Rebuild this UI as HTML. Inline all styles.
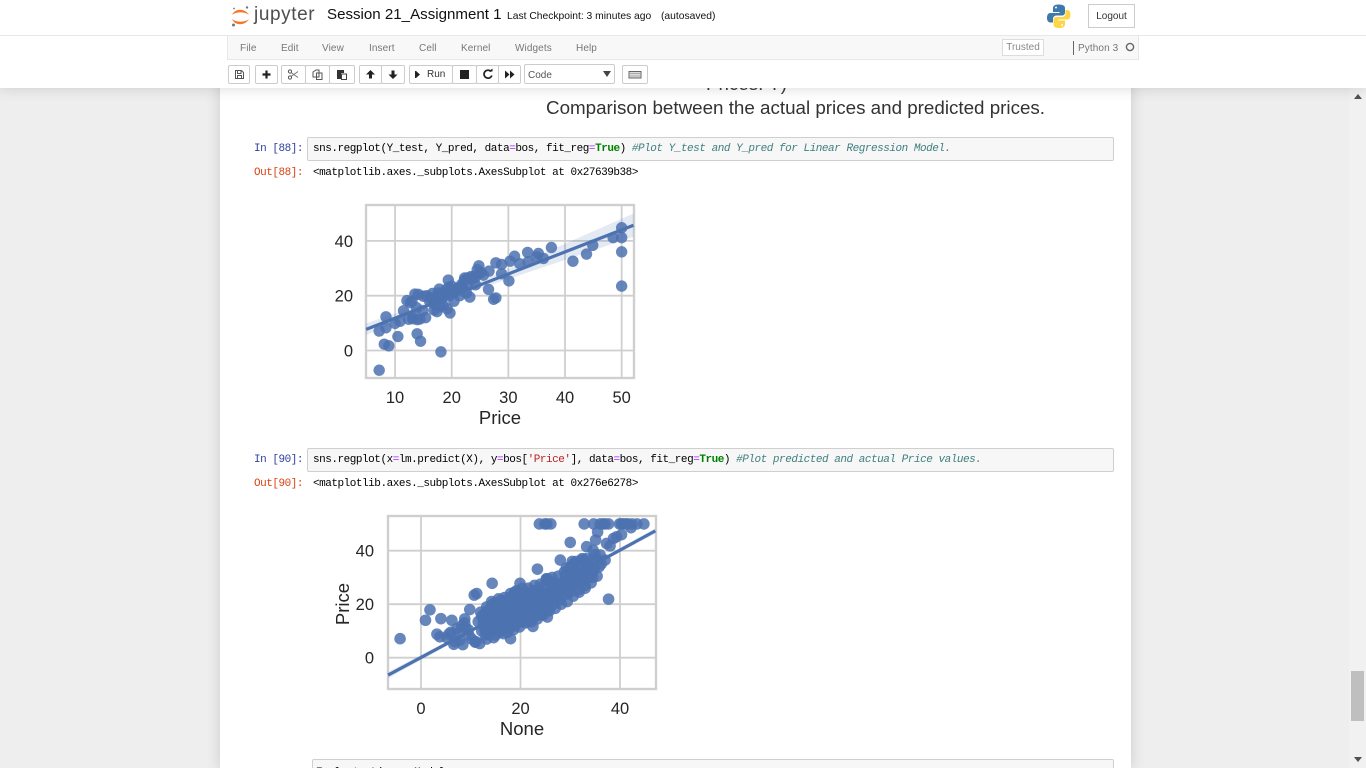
<!DOCTYPE html>
<html lang="en">
<head>
<meta charset="utf-8">
<title>Session 21_Assignment 1</title>
<style>
html,body{margin:0;padding:0;width:1366px;height:768px;overflow:hidden;background:#eee;font-family:"Liberation Sans",Arial,sans-serif;}
#stage{position:relative;width:1366px;height:768px;overflow:hidden;background:#eee;}
.abs{position:absolute;white-space:nowrap;}
#nb{left:220px;top:0;width:911px;height:768px;background:#fff;box-shadow:0 0 12px 1px rgba(87,87,87,.2);}
#hdr{left:0;top:0;width:1366px;height:88px;background:#fff;box-shadow:0 0 12px 1px rgba(87,87,87,.2);z-index:5;}
#hdr .abs{z-index:6;}
.menu{top:41px;font-size:10px;line-height:13px;color:#777;letter-spacing:.1px;}
.btn{top:65px;height:17px;background:#fff;border:1px solid #ccc;border-radius:2px;box-sizing:content-box;}
.btn svg{position:absolute;left:0;top:0;}
.prompt,.code{font-family:"Liberation Mono",monospace;font-size:11px;letter-spacing:-.47px;line-height:14px;}
.in{color:#303F9F;left:254px;}
.out{color:#D84315;left:254px;}
.inbox{left:307px;width:805px;background:#f7f7f7;border:1px solid #cfcfcf;border-radius:2px;}
.code{color:#000;left:313px;}
.o{color:#a2f;}
.k{color:#008000;font-weight:bold;}
.c{color:#408080;font-style:italic;}
.s{color:#BA2121;}
</style>
</head>
<body>
<div id="stage">
  <div class="abs" id="nb"></div>

  <div class="abs" style="left:706px;top:72px;font-size:18.8px;line-height:24px;color:#333;">Prices: Y)</div>
  <div class="abs" style="left:546px;top:96px;font-size:18.8px;line-height:24px;color:#333;">Comparison between the actual prices and predicted prices.</div>

  <div class="abs prompt in" style="top:142px;">In [88]:</div>
  <div class="abs inbox" style="top:137px;height:22px;"></div>
  <div class="abs code" style="top:142px;">sns.regplot(Y_test, Y_pred, data<span class="o">=</span>bos, fit_reg<span class="o">=</span><span class="k">True</span>) <span class="c">#Plot Y_test and Y_pred for Linear Regression Model.</span></div>
  <div class="abs prompt out" style="top:166px;">Out[88]:</div>
  <div class="abs code" style="top:166px;">&lt;matplotlib.axes._subplots.AxesSubplot at 0x27639b38&gt;</div>

  <div class="abs prompt in" style="top:453px;">In [90]:</div>
  <div class="abs inbox" style="top:448px;height:22px;"></div>
  <div class="abs code" style="top:453px;">sns.regplot(x<span class="o">=</span>lm.predict(X), y<span class="o">=</span>bos[<span class="s">'Price'</span>], data<span class="o">=</span>bos, fit_reg<span class="o">=</span><span class="k">True</span>) <span class="c">#Plot predicted and actual Price values.</span></div>
  <div class="abs prompt out" style="top:477px;">Out[90]:</div>
  <div class="abs code" style="top:477px;">&lt;matplotlib.axes._subplots.AxesSubplot at 0x276e6278&gt;</div>

  <div class="abs inbox" style="left:312px;width:800px;top:759px;height:30px;"></div>
  <div class="abs code" style="top:766px;left:316px;">Evaluate Linear Model</div>

  <svg class="abs" id="chart1" width="1366" height="768" style="left:0;top:0;font-family:'Liberation Sans',Arial,sans-serif;"></svg>
  <svg class="abs" id="chart2" width="1366" height="768" style="left:0;top:0;font-family:'Liberation Sans',Arial,sans-serif;"></svg>

  <div class="abs" style="left:1349px;top:88px;width:17px;height:680px;background:#f1f1f1;"></div>
  <div class="abs" style="left:1351px;top:671px;width:13px;height:50px;background:#bfbfbf;"></div>
  <svg class="abs" width="10" height="6" style="left:1353px;top:94px;"><polygon points="5,0 9,5 1,5" fill="#505050"/></svg>
  <svg class="abs" width="10" height="6" style="left:1353px;top:757px;"><polygon points="1,0 9,0 5,5" fill="#505050"/></svg>

  <div class="abs" id="hdr">
    <svg class="abs" width="22" height="24" style="left:230px;top:4px;">
      <path d="M2 11 C5 4 15 4 19 11 C15 7.5 6 7.5 2 11 Z" fill="#F37726"/>
      <path d="M2 15 C5 22 15 22 19 15 C15 18.5 6 18.5 2 15 Z" fill="#F37726"/>
      <circle cx="17" cy="3.5" r="1.2" fill="#767677"/><circle cx="3.5" cy="21" r="1.5" fill="#767677"/><circle cx="4" cy="4.5" r=".9" fill="#767677"/>
    </svg>
    <div class="abs" style="left:254px;top:3px;font-size:19px;line-height:24px;color:#4e4e4e;letter-spacing:.6px;">jupyter</div>
    <div class="abs" style="left:327px;top:5px;font-size:15.1px;line-height:20px;color:#111;">Session 21_Assignment 1</div>
    <div class="abs" style="left:507px;top:10px;font-size:10.3px;line-height:13px;color:#111;">Last Checkpoint: 3 minutes ago</div>
    <div class="abs" style="left:661px;top:10px;font-size:10.3px;line-height:13px;color:#111;">(autosaved)</div>

    <svg class="abs" width="24" height="25" style="left:1047px;top:4px;">
      <path d="M12 0.5 C6 0.5 6 3 6 5 V8 H12.5 V9 H3.5 C0.5 9 0 12 0 14 C0 17 1.5 18.5 3.5 18.5 H6 V15 C6 13 7.5 11.5 9.5 11.5 H15 C16.5 11.5 18 10.5 18 8.5 V4 C18 2 16 0.5 12 0.5 Z" fill="#3d79ab"/>
      <path d="M12 24 C18 24 18 21.5 18 19.5 V16.5 H11.5 V15.5 H20.5 C23 15.5 23.5 12.5 23.5 10.5 C23.5 7.5 22 6 20 6 H18.5 V9.5 C18.5 11.5 17 13 15 13 H9.5 C8 13 6.5 14 6.5 16 V20.5 C6.5 22.5 8 24 12 24 Z" fill="#fdd648"/>
      <circle cx="9" cy="3.5" r="1" fill="#fff"/><circle cx="15" cy="21" r="1" fill="#fff"/>
    </svg>
    <div class="abs" style="left:1088px;top:4px;width:45px;height:22px;border:1px solid #ccc;font-size:10px;line-height:24px;text-align:center;color:#333;background:#fff;">Logout</div>

    <div class="abs" style="left:0;top:35px;width:1366px;height:1px;background:#e7e7e7;"></div>
    <div class="abs" style="left:227px;top:36px;width:910px;height:23px;background:#f8f8f8;border-right:1px solid #e7e7e7;border-left:1px solid #e7e7e7;border-bottom:1px solid #e7e7e7;"></div>
    <div class="abs menu" style="left:240px;top:42px;">File</div>
    <div class="abs menu" style="left:281px;top:42px;">Edit</div>
    <div class="abs menu" style="left:322px;top:42px;">View</div>
    <div class="abs menu" style="left:369px;top:42px;">Insert</div>
    <div class="abs menu" style="left:419px;top:42px;">Cell</div>
    <div class="abs menu" style="left:461px;top:42px;">Kernel</div>
    <div class="abs menu" style="left:515px;top:42px;">Widgets</div>
    <div class="abs menu" style="left:576px;top:42px;">Help</div>
    <div class="abs" style="left:1002px;top:39px;width:40px;height:15px;border:1px solid #ddd;background:#fff;font-size:10px;line-height:16px;text-align:center;color:#888;">Trusted</div>
    <div class="abs" style="left:1073px;top:41px;width:1px;height:14px;background:#666;"></div>
    <div class="abs menu" style="left:1078px;top:42px;">Python 3</div>
    <svg class="abs" width="12" height="12" style="left:1124px;top:41px;"><circle cx="6" cy="6" r="3.6" fill="none" stroke="#666" stroke-width="1.4"/></svg>

    <div class="abs btn" style="left:228px;width:20px;"><svg width="20" height="17"><path d="M6.5 4.5h6l2 2v6h-8z M8.5 4.5v3h3.5v-3 M8.5 12.5v-3h4v3" fill="none" stroke="#555" stroke-width="1"/></svg></div>
    <div class="abs btn" style="left:255px;width:21px;"><svg width="21" height="17"><path d="M10.5 4.5v8M6.5 8.5h8" stroke="#222" stroke-width="2.2"/></svg></div>
    <div class="abs btn" style="left:281px;width:23px;"><svg width="23" height="17"><circle cx="8" cy="5.5" r="1.6" fill="none" stroke="#555"/><circle cx="8" cy="11.5" r="1.6" fill="none" stroke="#555"/><path d="M9 6.5l7 5M9 10.5l7-5" stroke="#777"/></svg></div>
    <div class="abs btn" style="left:305px;width:23px;"><svg width="23" height="17"><path d="M7 6l3-2h3v7H7z M10.5 7h5.500v6.500h-5.500z" fill="#fff" stroke="#555"/></svg></div>
    <div class="abs btn" style="left:329px;width:24px;"><svg width="24" height="17"><path d="M7 4h7v3h-3v6H7z" fill="#333"/><path d="M11.500 8h5v5.500h-5z" fill="#fff" stroke="#444"/></svg></div>
    <div class="abs btn" style="left:359px;width:21px;"><svg width="21" height="17"><path d="M10.500 4l4.500 4.500h-3v4h-3v-4h-3z" fill="#222"/></svg></div>
    <div class="abs btn" style="left:381px;width:22px;"><svg width="22" height="17"><path d="M11 13l-4.500-4.500h3v-4h3v4h3z" fill="#222"/></svg></div>
    <div class="abs btn" style="left:409px;width:42px;font-size:10px;line-height:18px;color:#333;"><svg width="14" height="17"><path d="M6 5l4 3.500-4 3.500z M5 5h1.400v7H5z" fill="#222"/></svg><span style="position:absolute;left:17px;top:0;">Run</span></div>
    <div class="abs btn" style="left:452px;width:23px;"><svg width="23" height="17"><rect x="7" y="4" width="9" height="9" fill="#222"/></svg></div>
    <div class="abs btn" style="left:476px;width:21px;"><svg width="21" height="17"><path d="M14 5.500a4 4 0 1 0 .8 4" fill="none" stroke="#222" stroke-width="1.700"/><path d="M11.500 5.500h4v-3z" fill="#222"/></svg></div>
    <div class="abs btn" style="left:498px;width:21px;"><svg width="21" height="17"><path d="M6 4.500l4.500 4-4.500 4z M11 4.500l4.500 4-4.500 4z" fill="#222"/></svg></div>
    <div class="abs" style="left:524px;top:64px;width:89px;height:18px;border:1px solid #ccc;border-radius:2px;background:#fff;font-size:10px;line-height:22px;color:#555;"><span style="position:absolute;left:3px;top:0;">Code</span><svg width="8" height="7" style="position:absolute;left:78px;top:6px;"><polygon points="0,0 8,0 4,6" fill="#444"/></svg></div>
    <div class="abs btn" style="left:622px;width:24px;"><svg width="24" height="17"><rect x="6" y="5.500" width="12" height="6.500" fill="#ddd" stroke="#666"/><path d="M7.500 7.500h9M7.500 10h9" stroke="#777" stroke-dasharray="1 1"/></svg></div>
  </div>
</div>

<script>
/* Chart 1 data: actual price vs predicted price */
var c1XTicks = [10, 20, 30, 40, 50];
var c1YTicks = [0, 20, 40];
var c1Actual = [7.2,18.1,8.1,8.9,10.5,13.9,14.5,7.2,8.4,8.4,10.0,10.9,50,50,48.5,50,50,44.9,43.8,41.4,37.6,35.3,36.2,33.4,35.0,32.0,33.5,31.1,30.3,30.1,28.8,27.8,28.8,26.6,27.8,27.4,26.5,24.8,19.7,19.4,
11.5,12.1,12.4,13.0,13.2,13.5,13.9,14.1,12.7,13.1,13.8,14.4,15.0,15.4,15.6,14.9,16.1,16.6,16.9,17.1,17.4,17.8,18.2,18.5,18.9,19.2,19.6,20.0,20.4,20.7,21.0,21.4,21.7,22.0,22.3,22.6,22.9,23.2,23.5,23.9,24.2,24.5,24.8,25.2,25.6,16.3,17.0,17.6,18.3,18.8,19.4,20.1,20.8,21.5,22.2,22.8,23.4,24.1,17.2,18.0];
var c1Predicted = [-7.2,-0.5,2.3,1.7,5.1,6.1,3.4,7.1,8.3,12.3,9.9,10.7,44.8,41.2,41.2,36,23.5,38.4,35.2,32.6,37.6,35.4,33.6,35.8,34.2,31.7,32.4,34.4,32.6,25.4,31.4,32,28,29,19.2,18.7,22.3,30.9,13.7,25.7,
14.5,18.2,11.4,18.0,12.0,20.6,11.3,20.5,17.5,11.6,15.6,11.5,19.8,12.0,20.0,14.5,18.0,20.8,14.8,16.6,14.2,22.4,20.5,16.5,22.0,15.2,20.0,23.5,18.0,21.5,22.5,20.0,24.0,23.0,26.5,21.0,24.8,19.5,26.0,27.0,24.0,29.5,28.0,28.5,27.5,19.0,18.0,21.0,19.0,21.0,23.0,22.0,22.5,23.0,25.5,26.5,27.0,26.5,19.5,16.0];
var c1FitX = [4.9, 20, 52.1];
var c1FitY = [7.7, 19.9, 45.7];
var c1CiHigh = [9.9, 20.7, 50.0];
var c1CiLow = [5.6, 19.1, 41.5];

/* Chart 2 data: model prediction vs actual price */
var c2XTicks = [0, 20, 40];
var c2YTicks = [0, 20, 40];
var c2Predicted = [-4.2,0.9,1.8,4.0,6.2,3.2,3.8,30.0,33.3,23.4,
14.3,11.2,10.7,19.9,37.7,25.4,22.5,18.0,9.8,8.8,
23.8,24.9,26.1,25.3,32.8,34.7,36.0,37.0,37.7,36.6,
39.9,40.7,41.6,42.4,43.4,44.8,40.3,41.2,35.5,35.1,
37.3,38.7,39.3,40.3,42.2,38.0,34.6,36.0,37.0,35.2,
5.2,6.0,6.6,7.2,7.8,8.4,9.0,9.6,10.2,10.9,
5.6,6.8,7.5,8.2,8.8,9.5,11.0,11.8,12.2,12.8,
12.5,13.0,13.4,13.8,14.2,14.6,15.0,15.4,15.8,16.2,
12.9,13.3,13.7,14.1,14.5,14.9,15.3,15.7,16.1,16.5,
16.6,17.0,17.4,17.8,18.2,18.6,19.0,19.4,19.8,20.2,
16.9,17.3,17.7,18.1,18.5,18.9,19.3,19.7,20.1,20.5,
20.6,21.0,21.4,21.8,22.2,22.6,23.0,23.4,23.8,24.2,
20.9,21.3,21.7,22.1,22.5,22.9,23.3,23.7,24.1,24.5,
24.6,25.0,25.4,25.8,26.2,26.6,27.0,27.4,27.8,28.2,
25.2,25.6,26.0,26.4,26.8,27.2,27.6,28.0,28.4,28.8,
28.6,29.0,29.4,29.8,30.2,30.6,31.0,31.4,31.8,32.2,
29.2,29.6,30.0,30.4,30.8,31.2,31.6,32.0,32.4,32.8,
33.0,33.4,33.8,34.2,34.6,35.0,35.4,35.8,36.2,33.2,
12.2,12.7,13.2,13.6,14.0,14.4,14.8,15.2,15.6,16.0,
16.8,17.6,18.4,19.2,20.0,20.8,21.6,22.4,23.2,24.0,
14.2,15.2,16.4,17.2,18.8,19.6,21.2,22.8,24.4,26.0,
13.1,14.7,15.9,17.5,18.3,19.1,20.3,21.9,23.5,25.1,
11.5,12.0,12.6,13.2,13.8,14.4,15.0,15.6,16.2,16.8,
17.4,18.0,18.6,19.2,19.8,20.4,21.0,21.6,22.2,22.8,
23.4,24.0,24.6,25.2,25.8,26.4,27.0,27.6,28.2,28.8,
29.4,30.0,30.6,31.2,31.8,32.4,33.0,33.6,34.2,34.8,
15.0,16.0,17.0,18.0,19.0,20.0,21.0,22.0,23.0,24.0,
13.5,14.5,15.5,16.5,17.5,18.5,19.5,20.5,21.5,22.5,
25.5,26.5,27.5,28.5,29.5,30.5,31.5,32.5,33.5,34.5];
var c2Actual = [7.1,14,17.9,14.6,14,8.8,7.8,43.1,41.5,33.1,
27.8,24,23.4,27.8,21.9,15.2,11.7,7.1,18,14.5,
50,50,50,50,50,50,50,50,50,50,
50,50,50,50,50,50,50,50,47,44,
42.7,44.6,45.2,46,48.6,41.8,40.2,38.4,36.5,36.8,
7.5,9.5,5.0,10.8,6.5,4.9,11.0,8.5,7.0,5.8,
8.8,6.0,9.0,12.0,13.0,10.5,6.0,5.3,10.0,16.5,
12.5,15.0,9.0,18.0,11.5,7.5,14.0,19.5,9.5,17.0,
8.5,17.5,13.0,10.0,16.0,20.5,12.0,15.5,21.5,12.5,
9.0,19.0,14.5,22.5,11.5,17.5,13.0,20.5,15.5,18.0,
15.0,11.0,18.5,15.5,21.5,12.0,23.0,16.5,13.5,21.5,
15.0,19.5,13.5,23.0,17.0,25.0,15.5,20.0,22.0,18.0,
24.5,17.5,20.5,15.0,19.0,22.5,18.0,25.5,16.0,21.5,
24.0,19.0,29.5,22.0,26.0,20.0,24.0,27.5,21.5,25.0,
29.0,18.0,23.0,28.0,21.5,26.0,23.0,36.5,28.0,23.5,
27.0,30.5,24.0,33.0,26.5,35.0,28.5,31.5,24.5,30.0,
33.5,29.0,24.5,36.0,31.0,27.5,34.5,28.5,36.5,31.0,
27.0,33.5,30.0,36.5,32.5,38.5,30.5,34.0,35.0,37.0,
15.5,11.0,7.0,15.0,18.5,13.0,17.0,10.5,18.0,14.0,
17.0,16.0,19.0,18.5,20.0,21.5,18.0,20.5,23.5,23.0,
21.0,20.0,19.5,20.5,24.5,24.0,23.5,24.5,26.5,24.5,
10.5,11.5,13.0,13.5,14.5,14.5,16.5,17.0,19.0,21.0,
13.5,17.0,14.0,19.0,16.5,20.0,8.5,22.0,11.0,22.5,
9.5,24.0,10.5,25.0,11.5,26.0,13.0,26.0,13.5,27.0,
14.5,27.5,16.0,29.5,17.5,30.0,18.5,30.5,20.0,32.0,
21.0,34.0,23.0,36.0,25.5,37.0,26.0,35.0,28.0,33.0,
12.5,15.5,13.5,17.5,15.5,16.5,22.5,17.5,19.0,20.5,
11.0,15.5,16.5,19.0,20.5,13.5,21.0,23.0,15.5,23.5,
23.5,24.5,25.5,26.0,26.5,29.0,29.5,33.0,32.5,30.0];
var c2FitX = [-6.6, 20, 47.1];
var c2FitY = [-6.5, 20, 47.4];
var c2CiHigh = [-5.3, 20.4, 48.4];
var c2CiLow = [-7.7, 19.6, 46.4];

var NS = 'http://www.w3.org/2000/svg';
var BLUE = '#4c72b0';

function mk(parent, tag) {
  var el = document.createElementNS(NS, tag);
  parent.appendChild(el);
  return el;
}

function drawChart(svg, box, xs, ys, fitX, fitY, ciHigh, ciLow, xTicks, yTicks, radius, tickX, tickY) {
  function sx(v) { return box.x0 + v * box.kx; }
  function sy(v) { return box.y0 - v * box.ky; }

  var bg = mk(svg, 'rect');
  
  
  bg.setAttribute('x', box.left);
  bg.setAttribute('y', box.top);
  bg.setAttribute('width', box.right - box.left);
  bg.setAttribute('height', box.bottom - box.top);
  bg.setAttribute('fill', '#fff');

  xTicks.forEach(function (t) {
    var g = mk(svg, 'line');
    
    
    g.setAttribute('x1', sx(t));
    g.setAttribute('x2', sx(t));
    g.setAttribute('y1', box.top);
    g.setAttribute('y2', box.bottom);
    g.setAttribute('stroke', '#cfcfcf');
    g.setAttribute('stroke-width', '1.8');
    var l = mk(svg, 'text');
    
    
    l.setAttribute('x', sx(t));
    l.setAttribute('y', tickX);
    l.setAttribute('text-anchor', 'middle');
    l.setAttribute('font-size', '16.5');
    l.setAttribute('fill', '#262626');
    l.textContent = String(t);
  });

  yTicks.forEach(function (t) {
    var g = mk(svg, 'line');
    
    
    g.setAttribute('x1', box.left);
    g.setAttribute('x2', box.right);
    g.setAttribute('y1', sy(t));
    g.setAttribute('y2', sy(t));
    g.setAttribute('stroke', '#cfcfcf');
    g.setAttribute('stroke-width', '1.8');
    var l = mk(svg, 'text');
    
    
    l.setAttribute('x', tickY);
    l.setAttribute('y', sy(t) + 6);
    l.setAttribute('text-anchor', 'end');
    l.setAttribute('font-size', '16.5');
    l.setAttribute('fill', '#262626');
    l.textContent = String(t);
  });

  var frame = mk(svg, 'rect');
  
  
  frame.setAttribute('x', box.left);
  frame.setAttribute('y', box.top);
  frame.setAttribute('width', box.right - box.left);
  frame.setAttribute('height', box.bottom - box.top);
  frame.setAttribute('fill', 'none');
  frame.setAttribute('stroke', '#cfcfcf');
  frame.setAttribute('stroke-width', '2.4');

  xs.forEach(function (v, i) {
    var c = mk(svg, 'circle');
    
    
    c.setAttribute('cx', sx(v));
    c.setAttribute('cy', sy(ys[i]));
    c.setAttribute('r', radius);
    c.setAttribute('fill', BLUE);
    c.setAttribute('fill-opacity', '0.85');
  });

  var up = fitX.map(function (v, i) { return sx(v) + ',' + sy(ciHigh[i]); });
  var dn = fitX.map(function (v, i) { return sx(v) + ',' + sy(ciLow[i]); }).reverse();
  var band = mk(svg, 'polygon');
  
  
  band.setAttribute('points', up.concat(dn).join(' '));
  band.setAttribute('fill', BLUE);
  band.setAttribute('fill-opacity', '0.15');

  var fit = mk(svg, 'polyline');
  
  
  fit.setAttribute('points', fitX.map(function (v, i) { return sx(v) + ',' + sy(fitY[i]); }).join(' '));
  fit.setAttribute('fill', 'none');
  fit.setAttribute('stroke', BLUE);
  fit.setAttribute('stroke-width', '3.2');
}

var svg1 = document.getElementById('chart1');
var svg2 = document.getElementById('chart2');

drawChart(svg1,
  {left: 366, right: 634, top: 205, bottom: 378, x0: 338.4, kx: 5.665, y0: 350.5, ky: 2.74},
  c1Actual, c1Predicted, c1FitX, c1FitY, c1CiHigh, c1CiLow, c1XTicks, c1YTicks, 5.7, 403, 353);

drawChart(svg2,
  {left: 388, right: 656, top: 516, bottom: 689, x0: 421, kx: 4.975, y0: 657.7, ky: 2.675},
  c2Predicted, c2Actual, c2FitX, c2FitY, c2CiHigh, c2CiLow, c2XTicks, c2YTicks, 5.8, 714, 374);

var t1 = mk(svg1, 'text');


t1.setAttribute('x', 500);
t1.setAttribute('y', 424);
t1.setAttribute('text-anchor', 'middle');
t1.setAttribute('font-size', '18.5');
t1.setAttribute('fill', '#262626');
t1.textContent = 'Price';

var t2 = mk(svg2, 'text');


t2.setAttribute('x', 522);
t2.setAttribute('y', 735);
t2.setAttribute('text-anchor', 'middle');
t2.setAttribute('font-size', '18.5');
t2.setAttribute('fill', '#262626');
t2.textContent = 'None';

var t3 = mk(svg2, 'text');


t3.setAttribute('x', 0);
t3.setAttribute('y', 0);
t3.setAttribute('transform', 'translate(349 604) rotate(-90)');
t3.setAttribute('text-anchor', 'middle');
t3.setAttribute('font-size', '18.5');
t3.setAttribute('fill', '#262626');
t3.textContent = 'Price';
</script>
</body>
</html>
